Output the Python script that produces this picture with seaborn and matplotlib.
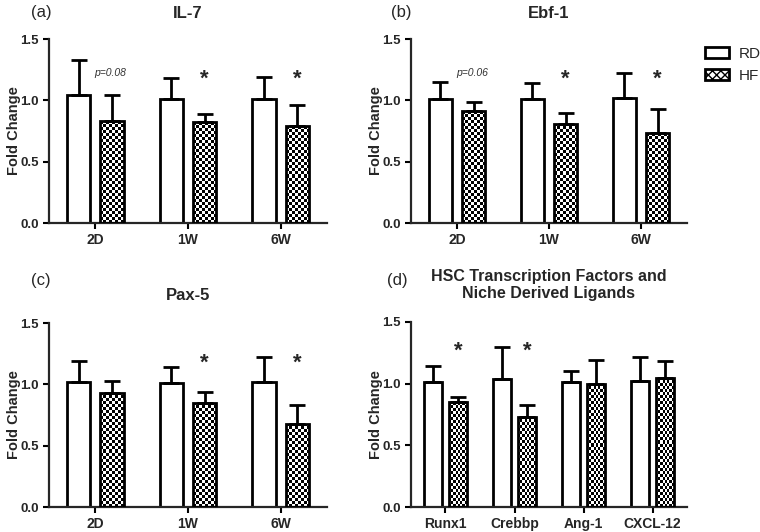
import numpy as np
import pandas as pd
import matplotlib
matplotlib.use("Agg")
import matplotlib.pyplot as plt
import matplotlib.patches as mpatches
import seaborn as sns

sns.set_style("ticks")
plt.rcParams['font.family'] = ['Liberation Sans', 'DejaVu Sans']

# dados
tempos = ['2D', '1W', '6W']
genes_d = ['Runx1', 'Crebbp', 'Ang-1', 'CXCL-12']
grupos = ['RD', 'HF']

il7_rd = [1.04, 1.01, 1.01]
il7_hf = [0.83, 0.82, 0.79]
il7_rd_sem = [0.29, 0.17, 0.18]
il7_hf_sem = [0.21, 0.07, 0.17]

ebf1_rd = [1.01, 1.01, 1.02]
ebf1_hf = [0.91, 0.81, 0.73]
ebf1_rd_sem = [0.14, 0.13, 0.20]
ebf1_hf_sem = [0.08, 0.09, 0.20]

pax5_rd = [1.02, 1.01, 1.02]
pax5_hf = [0.93, 0.85, 0.68]
pax5_rd_sem = [0.17, 0.13, 0.20]
pax5_hf_sem = [0.10, 0.09, 0.15]

hsc_rd = [1.01, 1.04, 1.01, 1.02]
hsc_hf = [0.85, 0.73, 1.00, 1.05]
hsc_rd_sem = [0.13, 0.26, 0.09, 0.20]
hsc_hf_sem = [0.04, 0.10, 0.19, 0.13]

# anotações: (índice da categoria, texto)
estrelas_a = [1, 2]
estrelas_b = [1, 2]
estrelas_c = [1, 2]
estrelas_d = [0, 1]
pvalor_a = (0, 'p=0.08')
pvalor_b = (0, 'p=0.06')

W, H = 760, 532
fig = plt.figure(figsize=(7.6, 5.32), dpi=100)


def eixo(x0, x1, ytop, ybot):
    return fig.add_axes([x0 / W, 1 - ybot / H, (x1 - x0) / W, (ybot - ytop) / H])


def painel(ax, cats, rd, hf, rd_sem, hf_sem, estrelas, pval=None, width=0.72):
    df = pd.DataFrame({
        'cat': cats * 2,
        'grupo': ['RD'] * len(cats) + ['HF'] * len(cats),
        'valor': rd + hf,
    })
    sns.barplot(data=df, x='cat', y='valor', hue='grupo', hue_order=grupos,
                palette=['white', 'white'], edgecolor='black', linewidth=2.0,
                width=width, gap=0.3, errorbar=None, legend=False, ax=ax)
    ax.set_xlim(-0.5, len(cats) - 0.5)
    ax.set_ylim(0, 1.5)

    # altura de um quadradinho em unidades de dados (~3 px)
    cy = 1.5 / (ax.get_window_extent().height / 3.0)
    for bars, sems in zip(ax.containers, [rd_sem, hf_sem]):
        xs = [b.get_x() + b.get_width() / 2 for b in bars]
        hs = [b.get_height() for b in bars]
        ax.errorbar(xs, hs, yerr=[np.zeros(len(hs)), sems], fmt='none',
                    ecolor='black', elinewidth=2.0, capsize=5.5, capthick=2.0, zorder=4)

    # padrão xadrez nas barras HF
    for b in ax.containers[1]:
        x0, w, h = b.get_x(), b.get_width(), b.get_height()
        nx = 8
        ny = max(int(round(h / cy)), 1)
        xadrez = np.add.outer(np.arange(ny), np.arange(nx)) % 2
        im = ax.imshow(xadrez, cmap='gray', extent=(x0, x0 + w, 0, h),
                       interpolation='nearest', aspect='auto', zorder=2)
        im.set_clip_path(b)
        b.set_facecolor('none')
        b.set_zorder(3)
    ax.set_xlim(-0.5, len(cats) - 0.5)
    ax.set_ylim(0, 1.5)
    ax.set_aspect('auto')

    hf_x = [b.get_x() + b.get_width() / 2 for b in ax.containers[1]]
    for i in estrelas:
        ax.text(hf_x[i], 1.17 if len(cats) == 3 else 1.26, '*', ha='center', va='center',
                fontsize=16, fontweight='bold')
    if pval is not None:
        ax.text(hf_x[pval[0]] - 0.02, 1.22, pval[1], ha='center', va='center',
                fontsize=7.5, style='italic', color='#333333')

    ax.set_yticks([0, 0.5, 1.0, 1.5])
    ax.set_yticklabels(['0.0', '0.5', '1.0', '1.5'])
    ax.set_xlabel('')
    ax.set_ylabel('Fold Change', fontsize=10.5, fontweight='bold')
    ax.yaxis.set_label_coords(-0.10, 0.5)
    ax.tick_params(axis='both', width=1.5, length=4, color='black')
    ax.tick_params(axis='y', labelsize=9.5)
    ax.tick_params(axis='x', labelsize=10)
    for lab in ax.get_xticklabels() + ax.get_yticklabels():
        lab.set_fontweight('bold')
    sns.despine(ax=ax)
    for s in ['left', 'bottom']:
        ax.spines[s].set_linewidth(1.6)


ax_a = eixo(49, 327, 39, 223)
ax_b = eixo(411, 687, 39, 223)
ax_c = eixo(49, 327, 323, 507)
ax_d = eixo(411, 687, 322, 507)

painel(ax_a, tempos, il7_rd, il7_hf, il7_rd_sem, il7_hf_sem, estrelas_a, pvalor_a)
painel(ax_b, tempos, ebf1_rd, ebf1_hf, ebf1_rd_sem, ebf1_hf_sem, estrelas_b, pvalor_b)
painel(ax_c, tempos, pax5_rd, pax5_hf, pax5_rd_sem, pax5_hf_sem, estrelas_c)
painel(ax_d, genes_d, hsc_rd, hsc_hf, hsc_rd_sem, hsc_hf_sem, estrelas_d, width=0.74)

# títulos e letras dos painéis
fig.text(41 / W, 1 - 13 / H, '(a)', ha='center', va='center', fontsize=12)
fig.text(188 / W, 1 - 13 / H, 'IL-7', ha='center', va='center', fontsize=12, fontweight='bold')
fig.text(401 / W, 1 - 13 / H, '(b)', ha='center', va='center', fontsize=12)
fig.text(549 / W, 1 - 13 / H, 'Ebf-1', ha='center', va='center', fontsize=12, fontweight='bold')
fig.text(41 / W, 1 - 281 / H, '(c)', ha='center', va='center', fontsize=12)
fig.text(188 / W, 1 - 295 / H, 'Pax-5', ha='center', va='center', fontsize=12, fontweight='bold')
fig.text(397 / W, 1 - 280 / H, '(d)', ha='center', va='center', fontsize=12)
fig.text(549 / W, 1 - 285 / H, 'HSC Transcription Factors and\nNiche Derived Ligands',
         ha='center', va='center', fontsize=11.5, fontweight='bold', linespacing=1.15)

# legenda
handles = [mpatches.Patch(facecolor='white', edgecolor='black', linewidth=2.0, label='RD'),
           mpatches.Patch(facecolor='white', edgecolor='black', linewidth=2.0, hatch='xxxx', label='HF')]
fig.legend(handles=handles, loc='upper left', bbox_to_anchor=(691 / W, 1 - 33 / H),
           frameon=False, fontsize=11, handlelength=1.6, handleheight=0.7,
           labelspacing=0.55, handletextpad=0.6)

plt.savefig('out.png', dpi=100)
